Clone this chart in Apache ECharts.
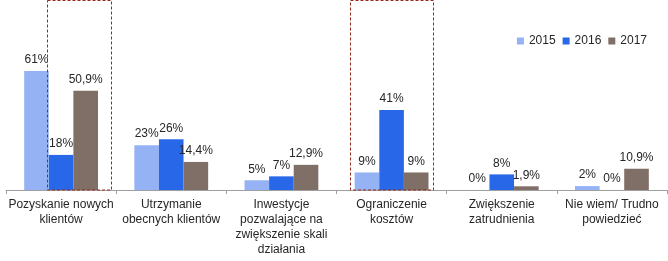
<!DOCTYPE html>
<html><head><meta charset="utf-8">
<script src="https://cdn.jsdelivr.net/npm/echarts@6/dist/echarts.min.js"></script>
<style>html,body{margin:0;padding:0;background:#fff}#c{width:668px;height:261px}</style>
</head><body><div id="c"></div>
<script>
const categories = ['Pozyskanie nowych\nklientów','Utrzymanie\nobecnych klientów','Inwestycje\npozwalające na\nzwiększenie skali\ndziałania','Ograniczenie\nkosztów','Zwiększenie\nzatrudnienia','Nie wiem/ Trudno\npowiedzieć'];
const seriesNames = ['2015','2016','2017'];
const v2015 = [61, 23, 5, 9, 0, 2];
const v2016 = [18, 26, 7, 41, 8, 0];
const v2017 = [50.9, 14.4, 12.9, 9, 1.9, 10.9];
const colors = ['#95b3f4','#2868e8','#7f6f67'];
const highlightBoxes = [ // [category index, start fraction, end fraction] of category width
  [0, 0.37, 0.955],
  [3, 0.12, 0.87]
];

const fmt = p => {
  const v = p.value;
  return (Number.isInteger(v) ? String(v) : v.toFixed(1).replace('.', ',')) + '%';
};
const mk = (name, data, color) => ({
  name, type: 'bar', data, barGap: '0%', barCategoryGap: '33%',
  itemStyle: { color },
  label: { show: true, position: 'top', distance: 5, formatter: fmt, color: '#262626', fontSize: 12, fontFamily: 'Liberation Sans, Arial, sans-serif' }
});

const chart = echarts.init(document.getElementById('c'), null, { renderer: 'canvas' });
chart.setOption({
  animation: false,
  textStyle: { fontFamily: 'Liberation Sans, Arial, sans-serif' },
  grid: { left: 6, right: 1, top: 53.5, bottom: 71, containLabel: false },
  legend: {
    data: seriesNames, right: 16, top: 30, itemWidth: 7, itemHeight: 7, itemGap: 7,
    icon: 'rect', textStyle: { color: '#262626', fontSize: 12 }
  },
  xAxis: {
    type: 'category', data: categories,
    axisLine: { lineStyle: { color: '#a0a0a0', width: 1 } },
    axisTick: { show: true, length: 4, lineStyle: { color: '#a0a0a0' } },
    axisLabel: { interval: 0, color: '#262626', fontSize: 12, lineHeight: 15, margin: 7 }
  },
  yAxis: { type: 'value', min: 0, max: 70, show: false, splitLine: { show: false } },
  series: [mk(seriesNames[0], v2015, colors[0]), mk(seriesNames[1], v2016, colors[1]), mk(seriesNames[2], v2017, colors[2])]
});

// Dashed highlight boxes positioned from the axis scale
const g = [];
const base = chart.convertToPixel({ yAxisIndex: 0 }, 0);
const c0 = chart.convertToPixel({ xAxisIndex: 0 }, 0);
const c1 = chart.convertToPixel({ xAxisIndex: 0 }, 1);
const cw = c1 - c0;
highlightBoxes.forEach(([ci, a, b]) => {
  const cx = chart.convertToPixel({ xAxisIndex: 0 }, ci);
  const start = cx - cw / 2;
  g.push({
    type: 'rect', silent: true, z: 100,
    shape: { x: Math.round(start + a * cw) + 0.5, y: 0.5, width: Math.round((b - a) * cw), height: Math.round(base) - 0.5 },
    style: { fill: 'none', stroke: '#932a1c', lineWidth: 1, lineDash: [3, 2] }
  });
});
chart.setOption({ graphic: g });
</script></body></html>
